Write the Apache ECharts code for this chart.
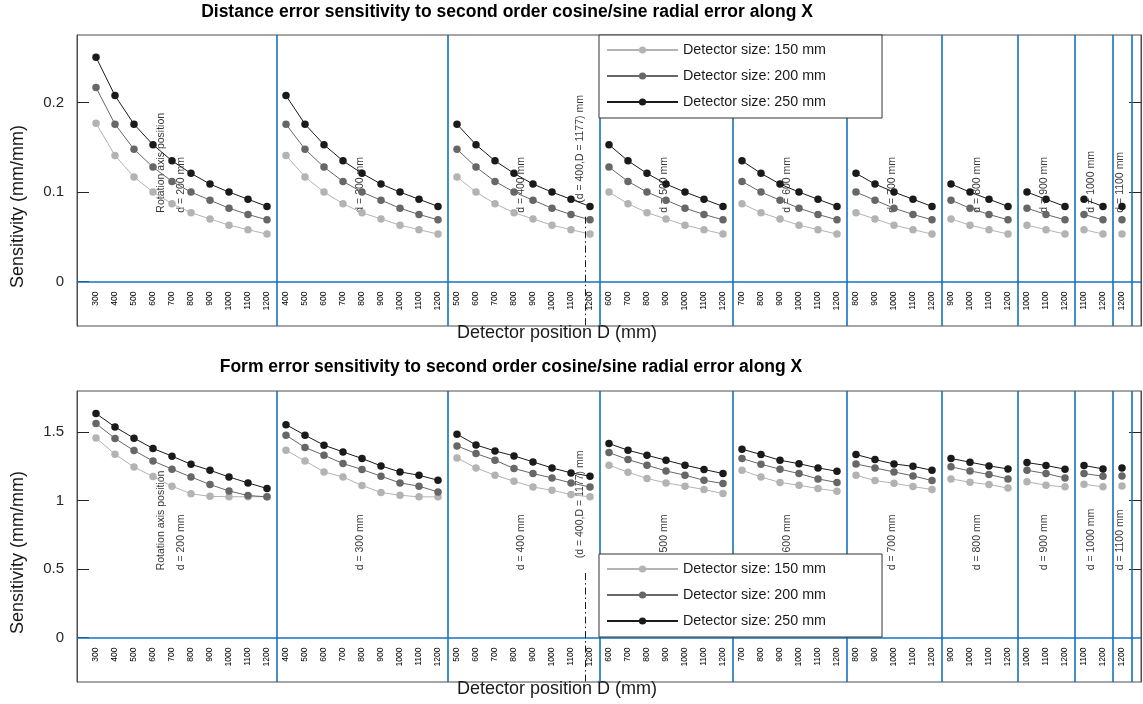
<!DOCTYPE html>
<html><head><meta charset="utf-8">
<script src="https://cdn.jsdelivr.net/npm/echarts@6/dist/echarts.min.js"></script>
<style>html,body{margin:0;padding:0;background:#fff}#c{width:1143px;height:704px}</style>
</head><body><div id="c"></div><script>
const FONT = 'Liberation Sans, Arial, Helvetica, sans-serif';

// Rotation axis positions d (one group per d)
const rotationAxisD = [200, 300, 400, 500, 600, 700, 800, 900, 1000, 1100];
// Detector positions D (tick labels) per group
const detectorD = [
  [300, 400, 500, 600, 700, 800, 900, 1000, 1100, 1200],
  [400, 500, 600, 700, 800, 900, 1000, 1100, 1200],
  [500, 600, 700, 800, 900, 1000, 1100, 1200],
  [600, 700, 800, 900, 1000, 1100, 1200],
  [700, 800, 900, 1000, 1100, 1200],
  [800, 900, 1000, 1100, 1200],
  [900, 1000, 1100, 1200],
  [1000, 1100, 1200],
  [1100, 1200],
  [1200]
];
const seriesNames = ['Detector size: 150 mm', 'Detector size: 200 mm', 'Detector size: 250 mm'];

// Top panel: distance error sensitivity
const dist150 = [
  [0.177, 0.141, 0.117, 0.100, 0.087, 0.077, 0.070, 0.063, 0.058, 0.053],
  [0.141, 0.117, 0.100, 0.087, 0.077, 0.070, 0.063, 0.058, 0.053],
  [0.117, 0.100, 0.087, 0.077, 0.070, 0.063, 0.058, 0.053],
  [0.100, 0.087, 0.077, 0.070, 0.063, 0.058, 0.053],
  [0.087, 0.077, 0.070, 0.063, 0.058, 0.053],
  [0.077, 0.070, 0.063, 0.058, 0.053],
  [0.070, 0.063, 0.058, 0.053],
  [0.063, 0.058, 0.053],
  [0.058, 0.053],
  [0.053]
];
const dist200 = [
  [0.217, 0.176, 0.148, 0.128, 0.112, 0.100, 0.091, 0.082, 0.075, 0.069],
  [0.176, 0.148, 0.128, 0.112, 0.100, 0.091, 0.082, 0.075, 0.069],
  [0.148, 0.128, 0.112, 0.100, 0.091, 0.082, 0.075, 0.069],
  [0.128, 0.112, 0.100, 0.091, 0.082, 0.075, 0.069],
  [0.112, 0.100, 0.091, 0.082, 0.075, 0.069],
  [0.100, 0.091, 0.082, 0.075, 0.069],
  [0.091, 0.082, 0.075, 0.069],
  [0.082, 0.075, 0.069],
  [0.075, 0.069],
  [0.069]
];
const dist250 = [
  [0.251, 0.208, 0.176, 0.153, 0.135, 0.121, 0.109, 0.100, 0.092, 0.084],
  [0.208, 0.176, 0.153, 0.135, 0.121, 0.109, 0.100, 0.092, 0.084],
  [0.176, 0.153, 0.135, 0.121, 0.109, 0.100, 0.092, 0.084],
  [0.153, 0.135, 0.121, 0.109, 0.100, 0.092, 0.084],
  [0.135, 0.121, 0.109, 0.100, 0.092, 0.084],
  [0.121, 0.109, 0.100, 0.092, 0.084],
  [0.109, 0.100, 0.092, 0.084],
  [0.100, 0.092, 0.084],
  [0.092, 0.084],
  [0.084]
];

// Bottom panel: form error sensitivity
const form150 = [
  [1.456, 1.337, 1.244, 1.174, 1.104, 1.048, 1.030, 1.027, 1.027, 1.027],
  [1.366, 1.288, 1.208, 1.171, 1.109, 1.058, 1.038, 1.026, 1.026],
  [1.310, 1.237, 1.184, 1.140, 1.098, 1.074, 1.043, 1.026],
  [1.257, 1.206, 1.160, 1.128, 1.104, 1.080, 1.050],
  [1.220, 1.171, 1.131, 1.111, 1.087, 1.067],
  [1.184, 1.145, 1.125, 1.101, 1.080],
  [1.157, 1.133, 1.116, 1.090],
  [1.136, 1.111, 1.099],
  [1.118, 1.099],
  [1.106]
];
const form200 = [
  [1.561, 1.452, 1.364, 1.288, 1.228, 1.171, 1.116, 1.069, 1.036, 1.026],
  [1.476, 1.386, 1.330, 1.269, 1.226, 1.177, 1.128, 1.104, 1.062],
  [1.398, 1.342, 1.293, 1.233, 1.196, 1.164, 1.128, 1.098],
  [1.349, 1.298, 1.257, 1.215, 1.184, 1.147, 1.123],
  [1.306, 1.264, 1.228, 1.196, 1.157, 1.131],
  [1.266, 1.237, 1.208, 1.179, 1.145],
  [1.245, 1.215, 1.189, 1.157],
  [1.220, 1.196, 1.164],
  [1.196, 1.177],
  [1.179]
];
const form250 = [
  [1.634, 1.536, 1.454, 1.379, 1.323, 1.264, 1.220, 1.171, 1.128, 1.087],
  [1.553, 1.476, 1.403, 1.354, 1.306, 1.252, 1.208, 1.184, 1.147],
  [1.483, 1.405, 1.361, 1.325, 1.281, 1.237, 1.201, 1.177],
  [1.415, 1.366, 1.330, 1.293, 1.257, 1.226, 1.196],
  [1.374, 1.335, 1.293, 1.268, 1.237, 1.213],
  [1.335, 1.298, 1.266, 1.249, 1.220],
  [1.306, 1.279, 1.252, 1.230],
  [1.276, 1.255, 1.228],
  [1.255, 1.230],
  [1.237]
];

// Axis ranges and tick values
const yRange = [[-0.0498, 0.2758], [-0.3246, 1.7984]];
const yTicks = [[0, 0.1, 0.2], [0, 0.5, 1, 1.5]];
const titles = [
  'Distance error sensitivity to second order cosine/sine radial error along X',
  'Form error sensitivity to second order cosine/sine radial error along X'
];
// Annotation: special marker at d = 400, D = 1177
const markerGroupD = 400, markerD = 1177;
const annotBaseY = [0.077, 0.49];      // start (bottom) of group labels
const markerTextY = [0.088, 0.578];    // start of marker text
const markerLineTopY = [0.0725, 0.47]; // top of dash-dot line

// ---------- build ----------
const groupStart = [];
let acc = 0;
detectorD.forEach(g => { groupStart.push(acc); acc += g.length; });
const nPts = acc;
const tickLabelByIndex = [].concat(...detectorD);
const separators = groupStart.slice(1).map(s => s - 0.5).concat([nPts - 0.5]);

const colors = ['#b3b3b3', '#676767', '#1a1a1a'];
const BLUE = '#1473c2';
const panels = [[dist150, dist200, dist250], [form150, form200, form250]];

const mgi = rotationAxisD.indexOf(markerGroupD);
const mgD = detectorD[mgi];
let mj = 0; while (mgD[mj + 1] != null && mgD[mj + 1] <= markerD) mj++;
const markerX = groupStart[mgi] + mj + (markerD - mgD[mj]) / (mgD[mj + 1] - mgD[mj]);

const gridTop = [35, 391];
const gridH = 291;
const grids = gridTop.map(t => ({left: 77, top: t, width: 1064, height: gridH, show: true,
  outerBoundsMode: 'none', containLabel: false,
  borderColor: '#4d4d4d', borderWidth: 1, backgroundColor: 'transparent'}));

const xAxes = [0, 1].map(p => ({
  type: 'value', gridIndex: p, min: -1, max: nPts, position: 'bottom',
  // place the axis labels at y = 0 of the panel
  offset: -gridH * (0 - yRange[p][0]) / (yRange[p][1] - yRange[p][0]),
  name: 'Detector position D (mm)', nameLocation: 'middle', nameGap: 43, nameMoveOverlap: false,
  nameTextStyle: {fontSize: 18, color: '#1a1a1a', fontFamily: FONT, padding: [0, 104, 0, 0]},
  axisLine: {show: false, onZero: false},
  axisTick: {show: false},
  splitLine: {show: false},
  axisLabel: {show: true, customValues: tickLabelByIndex.map((_, i) => i), rotate: 90,
    formatter: v => String(tickLabelByIndex[Math.round(v)]), fontSize: 8.5, color: '#000',
    fontFamily: FONT, margin: 10}
}));

const yAxes = [];
[0, 1].forEach(p => {
  yAxes.push({
    type: 'value', gridIndex: p, position: 'left', min: yRange[p][0], max: yRange[p][1],
    name: 'Sensitivity (mm/mm)', nameLocation: 'middle', nameGap: 50, nameMoveOverlap: false,
    nameTextStyle: {fontSize: 18, color: '#1a1a1a', fontFamily: FONT, padding: [0, p === 0 ? 52 : 32, 0, 0]},
    axisLine: {show: true, onZero: false, lineStyle: {color: '#4d4d4d'}},
    axisTick: {show: true, inside: true, length: 12, customValues: yTicks[p], lineStyle: {color: '#262626'}},
    axisLabel: {show: true, customValues: yTicks[p], fontSize: 15, color: '#262626', fontFamily: FONT, margin: 13,
      formatter: v => String(v)},
    splitLine: {show: false}
  });
  yAxes.push({
    type: 'value', gridIndex: p, position: 'right', min: yRange[p][0], max: yRange[p][1],
    axisLine: {show: true, onZero: false, lineStyle: {color: '#4d4d4d'}},
    axisTick: {show: true, inside: true, length: 12, customValues: yTicks[p].filter(v => v !== 0), lineStyle: {color: '#262626'}},
    axisLabel: {show: false},
    splitLine: {show: false}
  });
});

const series = [];
[0, 1].forEach(p => {
  // structural lines: zero line, group separators, d=400/D=1177 marker
  series.push({
    type: 'line', xAxisIndex: p, yAxisIndex: p * 2, data: [], silent: true, z: 1,
    markLine: {
      silent: true, symbol: ['none', 'none'], label: {show: false}, animation: false,
      lineStyle: {color: BLUE, type: 'solid', width: 1.6},
      data: [{yAxis: 0}].concat(separators.map(x => ({xAxis: x}))).concat([[
        {coord: [markerX, markerLineTopY[p]], lineStyle: {color: '#1a1a1a', type: [7, 3, 1.5, 3], width: 1}},
        {coord: [markerX, yRange[p][0]]}
      ]])
    }
  });
  panels[p].forEach((groups, s) => {
    groups.forEach((g, gi) => {
      series.push({
        type: 'line', name: seriesNames[s], xAxisIndex: p, yAxisIndex: p * 2,
        data: g.map((v, j) => [groupStart[gi] + j, v]),
        symbol: 'circle', symbolSize: 7.5, showSymbol: true,
        itemStyle: {color: colors[s]}, lineStyle: {color: colors[s], width: 1},
        z: 3 + s
      });
    });
  });
  // annotation labels
  const ann = rotationAxisD.map((d, gi) => {
    const center = groupStart[gi] + (detectorD[gi].length - 1) / 2;
    const txt = gi === 0 ? 'Rotation axis position\nd = ' + d + ' mm' : 'd = ' + d + ' mm';
    return {value: [gi === 0 ? center - 0.55 : center - 0.1, annotBaseY[p]], name: txt};
  });
  ann.push({value: [markerX - 0.3, markerTextY[p]], name: '(d = ' + markerGroupD + ',D = ' + markerD + ') mm'});
  series.push({
    type: 'scatter', xAxisIndex: p, yAxisIndex: p * 2, symbolSize: 0, silent: true, z: 2,
    data: ann,
    label: {show: true, position: 'inside', rotate: 90, align: 'left', verticalAlign: 'middle',
      formatter: q => q.name, fontSize: 10.5, lineHeight: 20, color: '#000', fontFamily: FONT}
  });
});

const legends = gridTop.map((t, p) => ({
  show: true, orient: 'vertical', left: 599, top: p === 0 ? 35 : 554, data: seriesNames,
  itemWidth: 71, itemHeight: 9, itemGap: 12, padding: [8, 56, 9, 7],
  backgroundColor: '#fff', borderColor: '#333', borderWidth: 1, borderRadius: 0,
  textStyle: {fontSize: 14.3, color: '#1a1a1a', fontFamily: FONT}, selectedMode: false, z: 10
}));

const option = {
  animation: false,
  backgroundColor: '#fff',
  title: [
    {text: titles[0], left: 507, top: 3, textAlign: 'center', padding: 0,
      textStyle: {fontSize: 17.5, fontWeight: 'bold', color: '#000', fontFamily: FONT}},
    {text: titles[1], left: 511, top: 358, textAlign: 'center', padding: 0,
      textStyle: {fontSize: 17.5, fontWeight: 'bold', color: '#000', fontFamily: FONT}}
  ],
  legend: legends,
  grid: grids,
  xAxis: xAxes,
  yAxis: yAxes,
  series: series
};
const chart = echarts.init(document.getElementById('c'), null, {renderer: 'canvas'});
chart.setOption(option);
</script></body></html>
